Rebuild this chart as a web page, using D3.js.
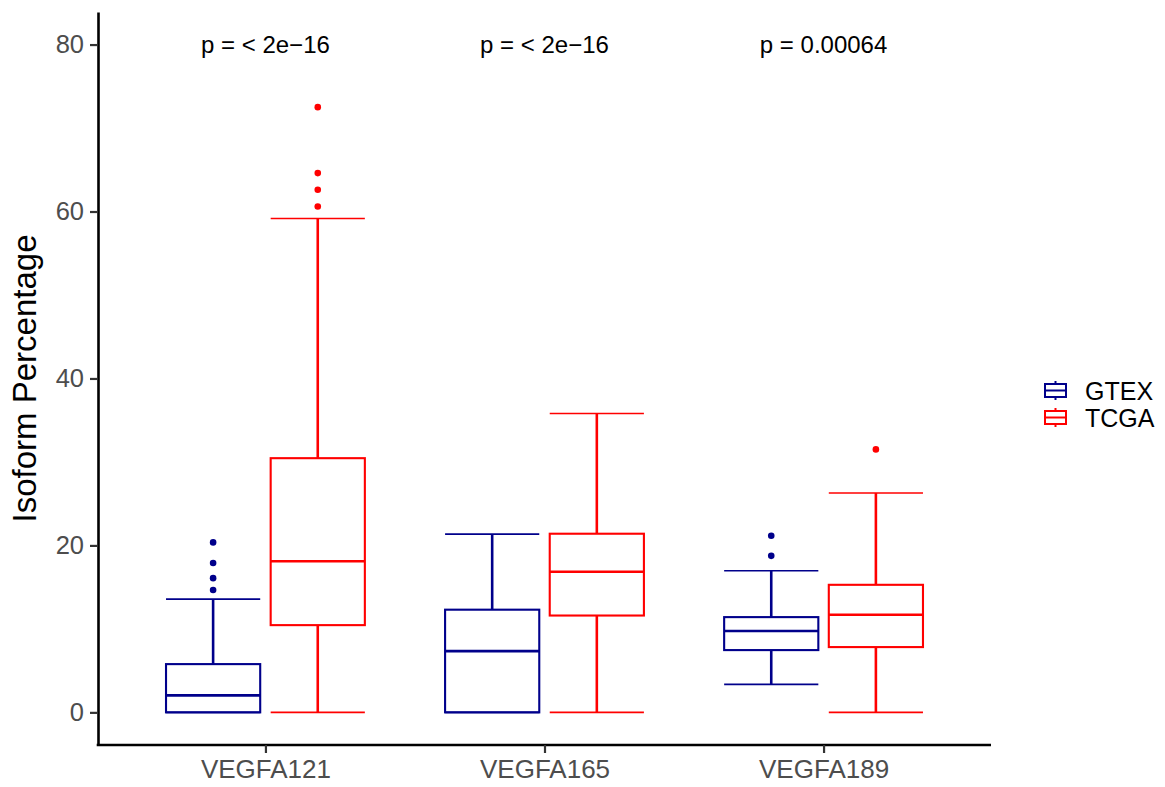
<!DOCTYPE html>
<html>
<head>
<meta charset="utf-8">
<script src="https://cdn.jsdelivr.net/npm/d3@7"></script>
<style>
  body { margin: 0; background: #fff; }
  text { font-family: "Liberation Sans", Arial, Helvetica, sans-serif; }
</style>
</head>
<body>
<svg id="chart" width="1165" height="787"></svg>
<script>
var width = 1165,
    height = 787

var categories = ["VEGFA121", "VEGFA165", "VEGFA189"]
var groups = ["GTEX", "TCGA"]
var pLabels = ["p = < 2e\u221216", "p = < 2e\u221216", "p = 0.00064"]
var yTicks = [0, 20, 40, 60, 80]

// five-number summaries, one value per category
var gtexLow = [0, 0, 3.35]
var gtexQ1 = [0, 0, 7.46]
var gtexMed = [2.04, 7.34, 9.74]
var gtexQ3 = [5.78, 12.3, 11.41]
var gtexHigh = [13.57, 21.35, 16.96]
var gtexOut = [[14.65, 16.08, 17.9, 20.36], [], [18.75, 21.15]]

var tcgaLow = [0, 0, 0]
var tcgaQ1 = [10.45, 11.6, 7.82]
var tcgaMed = [18.1, 16.84, 11.69]
var tcgaQ3 = [30.45, 21.4, 15.28]
var tcgaHigh = [59.16, 35.8, 26.27]
var tcgaOut = [[60.6, 62.6, 64.6, 72.5], [], [31.5]]

var boxes = []
categories.forEach(function(c, i) {
  boxes.push({cat: c, group: "GTEX", low: gtexLow[i], q1: gtexQ1[i], med: gtexMed[i], q3: gtexQ3[i], high: gtexHigh[i], out: gtexOut[i]})
  boxes.push({cat: c, group: "TCGA", low: tcgaLow[i], q1: tcgaQ1[i], med: tcgaMed[i], q3: tcgaQ3[i], high: tcgaHigh[i], out: tcgaOut[i]})
})

var pLeft = 98, pRight = 991, pTop = 12, pBottom = 745

var x = d3.scalePoint()
  .domain(categories)
  .range([pLeft, pRight])
  .padding(0.6)

var step = x.step()
var xg = d3.scaleBand()
  .domain(groups)
  .range([-0.375 * step, 0.375 * step])
  .paddingInner(0.1)
  .paddingOuter(0.05)

var y = d3.scaleLinear()
  .domain([-3.91, 83.9])
  .range([pBottom, pTop])

var color = d3.scaleOrdinal()
  .domain(groups)
  .range(["#00008B", "#FF0000"])

var svg = d3.select("#chart")

// boxes
var g = svg.append("g")
  .selectAll("g")
  .data(boxes)
  .enter()
  .append("g")
  .attr("transform", function(d) { return "translate(" + (x(d.cat) + xg(d.group)) + ",0)" })
  .style("stroke", function(d) { return color(d.group) })
  .style("fill", "none")

var bw = xg.bandwidth()

g.append("line")
  .attr("x1", bw / 2).attr("x2", bw / 2)
  .attr("y1", function(d) { return y(d.q3) }).attr("y2", function(d) { return y(d.high) })
  .attr("stroke-width", 2.6)
g.append("line")
  .attr("x1", bw / 2).attr("x2", bw / 2)
  .attr("y1", function(d) { return y(d.q1) }).attr("y2", function(d) { return y(d.low) })
  .attr("stroke-width", 2.6)
g.append("line")
  .attr("x1", 0).attr("x2", bw)
  .attr("y1", function(d) { return y(d.high) }).attr("y2", function(d) { return y(d.high) })
  .attr("stroke-width", 1.6)
g.append("line")
  .attr("x1", 0).attr("x2", bw)
  .attr("y1", function(d) { return y(d.low) }).attr("y2", function(d) { return y(d.low) })
  .attr("stroke-width", 1.6)
g.append("rect")
  .attr("x", 0).attr("width", bw)
  .attr("y", function(d) { return y(d.q3) })
  .attr("height", function(d) { return y(d.q1) - y(d.q3) })
  .attr("stroke-width", 2.1)
g.append("line")
  .attr("x1", 0).attr("x2", bw)
  .attr("y1", function(d) { return y(d.med) }).attr("y2", function(d) { return y(d.med) })
  .attr("stroke-width", 2.6)

g.selectAll("circle")
  .data(function(d) { return d.out.map(function(v) { return {v: v, group: d.group} }) })
  .enter()
  .append("circle")
  .attr("cx", bw / 2)
  .attr("cy", function(d) { return y(d.v) })
  .attr("r", 3.3)
  .style("stroke", "none")
  .style("fill", function(d) { return color(d.group) })

// axes
var yAxis = svg.append("g")
  .attr("transform", "translate(" + pLeft + ",0)")
  .call(d3.axisLeft(y).tickValues(yTicks).tickSize(8).tickSizeOuter(0).tickPadding(6))
yAxis.select(".domain").attr("stroke", "#000").attr("stroke-width", 2.6)
yAxis.selectAll(".tick line").attr("stroke", "#333").attr("stroke-width", 2.2)
yAxis.selectAll(".tick text").attr("fill", "#4D4D4D").attr("font-size", 25.5)
  .attr("font-family", "Liberation Sans, Arial, sans-serif")

var xAxis = svg.append("g")
  .attr("transform", "translate(0," + pBottom + ")")
  .call(d3.axisBottom(x).tickSize(8).tickSizeOuter(0).tickPadding(7))
xAxis.select(".domain").attr("stroke", "#000").attr("stroke-width", 2.6)
  .attr("d", "M" + (pLeft - 1.3) + ",0H" + pRight)
xAxis.selectAll(".tick line").attr("stroke", "#333").attr("stroke-width", 2.2)
xAxis.selectAll(".tick text").attr("fill", "#4D4D4D").attr("font-size", 26)
  .attr("font-family", "Liberation Sans, Arial, sans-serif")

// y title
svg.append("text")
  .attr("transform", "translate(36," + ((pTop + pBottom) / 2) + ") rotate(-90)")
  .attr("text-anchor", "middle")
  .attr("font-size", 33)
  .attr("fill", "#000")
  .text("Isoform Percentage")

// p-values
svg.append("g")
  .selectAll("text")
  .data(categories)
  .enter()
  .append("text")
  .attr("x", function(d) { return x(d) })
  .attr("y", y(80))
  .attr("dy", "0.35em")
  .attr("text-anchor", "middle")
  .attr("font-size", 24)
  .attr("fill", "#000")
  .text(function(d, i) { return pLabels[i] })

// legend
var legend = svg.append("g")
  .selectAll("g")
  .data(groups)
  .enter()
  .append("g")
  .attr("transform", function(d, i) { return "translate(1045," + (390.5 + i * 27) + ")" })

legend.append("line")
  .attr("x1", 10.5).attr("x2", 10.5).attr("y1", -9.5).attr("y2", 9.5)
  .attr("stroke", function(d) { return color(d) })
  .attr("stroke-width", 2)
legend.append("rect")
  .attr("x", 0).attr("y", -6.5).attr("width", 21).attr("height", 13)
  .attr("fill", "#fff")
  .attr("stroke", function(d) { return color(d) })
  .attr("stroke-width", 2)
legend.append("line")
  .attr("x1", 0).attr("x2", 21).attr("y1", 0).attr("y2", 0)
  .attr("stroke", function(d) { return color(d) })
  .attr("stroke-width", 2)
legend.append("text")
  .attr("x", 40)
  .attr("y", 0)
  .attr("dy", "0.36em")
  .attr("font-size", 25)
  .attr("fill", "#000")
  .text(function(d) { return d })
</script>
</body>
</html>
